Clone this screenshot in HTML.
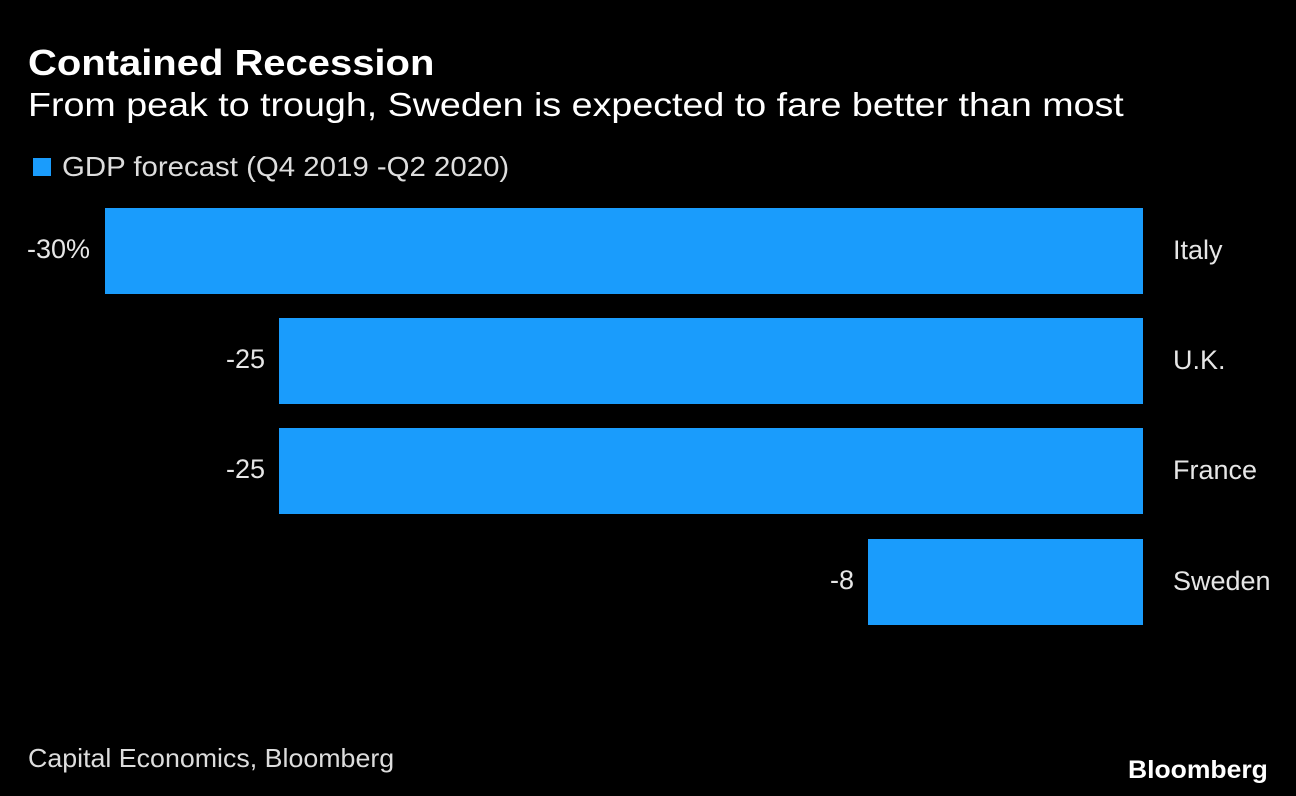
<!DOCTYPE html><html><head><style>
body{margin:0;width:1296px;height:796px;background:#000;position:relative;overflow:hidden;font-family:"Liberation Sans",sans-serif;color:#e6e6e6}
div{position:absolute;white-space:nowrap}
.b{background:#1a9cfc;left:auto}
.v{font-size:27px;text-align:right;width:100px}
.c{font-size:27px;left:1173px}
</style></head><body>
<div style="left:28px;top:42px;font-size:36px;font-weight:bold;color:#fff;transform:scaleX(1.11);transform-origin:left">Contained Recession</div>
<div style="left:28px;top:86px;font-size:33px;color:#fff;transform:scaleX(1.14);transform-origin:left">From peak to trough, Sweden is expected to fare better than most</div>
<div style="left:33px;top:158px;width:18px;height:18px;background:#1a9cfc"></div>
<div style="left:62px;top:151px;font-size:28px;color:#ddd;transform:scaleX(1.05);transform-origin:left">GDP forecast (Q4 2019 -Q2 2020)</div>
<div class="b" style="left:105px;top:208px;width:1038px;height:86px"></div>
<div class="b" style="left:279px;top:318px;width:864px;height:86px"></div>
<div class="b" style="left:279px;top:428px;width:864px;height:86px"></div>
<div class="b" style="left:868px;top:539px;width:275px;height:86px"></div>
<div class="v" style="left:-10px;top:234px">-30%</div>
<div class="v" style="left:165px;top:344px">-25</div>
<div class="v" style="left:165px;top:454px">-25</div>
<div class="v" style="left:754px;top:565px">-8</div>
<div class="c" style="top:235px">Italy</div>
<div class="c" style="top:345px">U.K.</div>
<div class="c" style="top:455px">France</div>
<div class="c" style="top:566px">Sweden</div>
<div style="left:28px;top:743px;font-size:26px;color:#ddd;transform:scaleX(1.03);transform-origin:left">Capital Economics, Bloomberg</div>
<div style="left:1128px;top:756px;font-size:25px;font-weight:bold;color:#fff;transform:scaleX(1.06);transform-origin:left">Bloomberg</div>
</body></html>
